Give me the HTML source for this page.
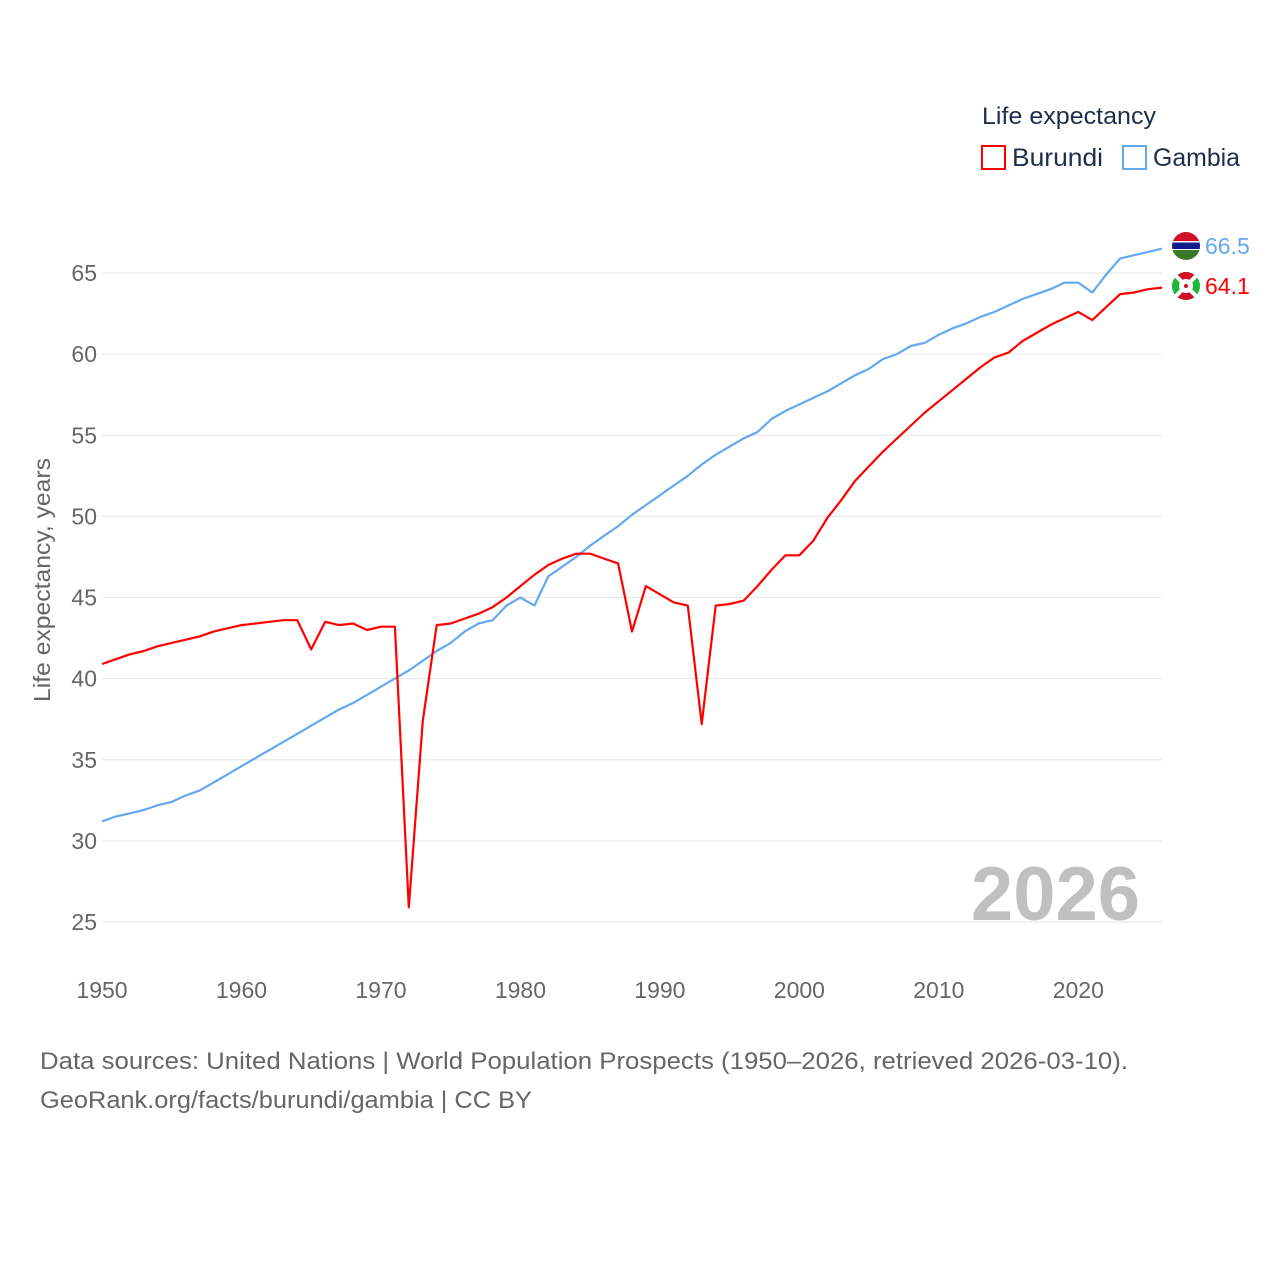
<!DOCTYPE html>
<html><head><meta charset="utf-8"><style>
body{margin:0;background:#fff;font-family:"Liberation Sans",sans-serif;}
</style></head><body>
<svg id="chart" width="1280" height="1280" xmlns="http://www.w3.org/2000/svg" font-family="Liberation Sans, sans-serif">
<rect width="1280" height="1280" fill="#fff"/>
<g id="grid"></g>
<g id="yticks"></g>
<g id="xticks"></g>
<text x="50" y="580" transform="rotate(-90 50 580)" text-anchor="middle" font-size="23" fill="#666" textLength="244" lengthAdjust="spacingAndGlyphs">Life expectancy, years</text>
<text x="1140" y="920" text-anchor="end" font-size="76" font-weight="bold" fill="#c0c0c0">2026</text>
<g id="lines"></g>
<text x="982" y="124" font-size="24" fill="#1f2d4d" textLength="174" lengthAdjust="spacingAndGlyphs">Life expectancy</text>
<g><rect x="982" y="146" width="23" height="23" fill="none" stroke="#f00" stroke-width="2"/><text x="1012" y="166" font-size="25" fill="#1f2d4d" textLength="91" lengthAdjust="spacingAndGlyphs">Burundi</text></g>
<g><rect x="1123" y="146" width="23" height="23" fill="none" stroke="#64a8ee" stroke-width="2"/><text x="1153" y="166" font-size="25" fill="#1f2d4d" textLength="87" lengthAdjust="spacingAndGlyphs">Gambia</text></g>
<g><clipPath id="cg"><circle cx="1186" cy="246" r="14"/></clipPath><g clip-path="url(#cg)"><rect x="1172" y="232" width="28" height="10" fill="#ce1126"/><rect x="1172" y="242" width="28" height="8" fill="#0c1c8c"/><rect x="1172" y="241" width="28" height="1.5" fill="#fff"/><rect x="1172" y="249" width="28" height="1.5" fill="#fff"/><rect x="1172" y="250" width="28" height="10" fill="#3a7728"/></g></g>
<g><clipPath id="cb"><circle cx="1186" cy="286" r="14"/></clipPath><g clip-path="url(#cb)"><rect x="1172" y="272" width="28" height="28" fill="#1eb53a"/><polygon points="1172,272 1200,272 1186,286" fill="#ce1126"/><polygon points="1172,300 1200,300 1186,286" fill="#ce1126"/><line x1="1172" y1="272" x2="1200" y2="300" stroke="#fff" stroke-width="4"/><line x1="1200" y1="272" x2="1172" y2="300" stroke="#fff" stroke-width="4"/><circle cx="1186" cy="286" r="7" fill="#fff"/><circle cx="1186" cy="286" r="2" fill="#ce1126"/></g></g>
<text x="1205" y="254" font-size="23" fill="#64a8ee">66.5</text>
<text x="1205" y="294" font-size="23" fill="#f00">64.1</text>
<text x="40" y="1069" font-size="24" fill="#666" textLength="1088" lengthAdjust="spacingAndGlyphs">Data sources: United Nations | World Population Prospects (1950–2026, retrieved 2026-03-10).</text>
<text x="40" y="1108" font-size="24" fill="#666" textLength="492" lengthAdjust="spacingAndGlyphs">GeoRank.org/facts/burundi/gambia | CC BY</text>
</svg>
<script>
const startYear = 1950;
const burundi = [40.9,41.2,41.5,41.7,42.0,42.2,42.4,42.6,42.9,43.1,43.3,43.4,43.5,43.6,43.6,41.8,43.5,43.3,43.4,43.0,43.2,43.2,25.9,37.4,43.3,43.4,43.7,44.0,44.4,45.0,45.7,46.4,47.0,47.4,47.7,47.7,47.4,47.1,42.9,45.7,45.2,44.7,44.5,37.2,44.5,44.6,44.8,45.7,46.7,47.6,47.6,48.5,49.9,51.0,52.2,53.1,54.0,54.8,55.6,56.4,57.1,57.8,58.5,59.2,59.8,60.1,60.8,61.3,61.8,62.2,62.6,62.1,62.9,63.7,63.8,64.0,64.1];
const gambia = [31.2,31.5,31.7,31.9,32.2,32.4,32.8,33.1,33.6,34.1,34.6,35.1,35.6,36.1,36.6,37.1,37.6,38.1,38.5,39.0,39.5,40.0,40.5,41.1,41.7,42.2,42.9,43.4,43.6,44.5,45.0,44.5,46.3,46.9,47.5,48.2,48.8,49.4,50.1,50.7,51.3,51.9,52.5,53.2,53.8,54.3,54.8,55.2,56.0,56.5,56.9,57.3,57.7,58.2,58.7,59.1,59.7,60.0,60.5,60.7,61.2,61.6,61.9,62.3,62.6,63.0,63.4,63.7,64.0,64.4,64.4,63.8,64.9,65.9,66.1,66.3,66.5];
const yTicks = [25,30,35,40,45,50,55,60,65];
const xTicks = [1950,1960,1970,1980,1990,2000,2010,2020];
const NS="http://www.w3.org/2000/svg";
const x = yr => 102 + (yr-1950)*(1060/76);
const y = v => 273 + (65-v)*(649/40);
const grid=document.getElementById('grid'), yt=document.getElementById('yticks'), xt=document.getElementById('xticks'), lines=document.getElementById('lines');
yTicks.forEach(t=>{
  const l=document.createElementNS(NS,'line');
  
  
  l.setAttribute('x1',102);l.setAttribute('x2',1162);l.setAttribute('y1',y(t));l.setAttribute('y2',y(t));
  l.setAttribute('stroke','#e6e6e6');l.setAttribute('stroke-width','1');
  grid.appendChild(l);
  const tx=document.createElementNS(NS,'text');
  
  
  tx.setAttribute('x',97);tx.setAttribute('y',y(t)+8);tx.setAttribute('text-anchor','end');
  tx.setAttribute('font-size','23');tx.setAttribute('fill','#666');tx.textContent=t;
  yt.appendChild(tx);
});
xTicks.forEach(t=>{
  const tx=document.createElementNS(NS,'text');
  
  
  tx.setAttribute('x',x(t));tx.setAttribute('y',998);tx.setAttribute('text-anchor','middle');
  tx.setAttribute('font-size','23');tx.setAttribute('fill','#666');tx.textContent=t;
  xt.appendChild(tx);
});
function drawLine(data,color,name){
  const p=document.createElementNS(NS,'polyline');
  
  
  p.setAttribute('points',data.map((v,i)=>x(startYear+i).toFixed(1)+','+y(v).toFixed(1)).join(' '));
  p.setAttribute('fill','none');p.setAttribute('stroke',color);p.setAttribute('stroke-width','2.2');
  p.setAttribute('stroke-linejoin','round');
  lines.appendChild(p);
}
drawLine(gambia,'#64a8ee','gambia-line');
drawLine(burundi,'#ff0000','burundi-line');
</script>
</body></html>
